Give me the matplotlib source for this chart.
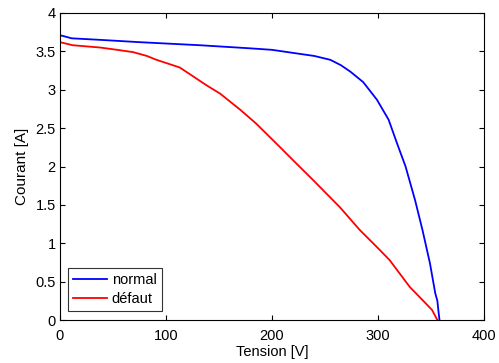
import matplotlib
matplotlib.use("Agg")
import matplotlib.pyplot as plt

V_normal = [0, 3, 11, 38, 75, 132, 179, 200, 220, 240, 255, 265, 274, 286, 299, 310, 318, 326, 335, 342, 349, 354, 356, 357, 358]
I_normal = [3.71, 3.70, 3.67, 3.65, 3.62, 3.58, 3.54, 3.52, 3.48, 3.44, 3.39, 3.32, 3.235, 3.10, 2.87, 2.61, 2.30, 2.00, 1.56, 1.17, 0.74, 0.35, 0.25, 0.12, 0.0]
V_defaut = [0, 3, 12, 38, 54, 69, 82, 91, 113, 138, 151, 170, 185, 207, 220, 239, 264, 283, 299, 311, 330, 342, 351, 356]
I_defaut = [3.62, 3.61, 3.58, 3.55, 3.52, 3.49, 3.44, 3.39, 3.29, 3.06, 2.95, 2.74, 2.56, 2.26, 2.08, 1.82, 1.47, 1.17, 0.95, 0.78, 0.43, 0.26, 0.13, 0.0]

plt.rcParams['font.family'] = ['Liberation Sans', 'DejaVu Sans']
fig = plt.figure(figsize=(4.99, 3.63), dpi=100)
ax = fig.add_axes([60/499, 1-320/363, (484-60)/499, (320-13)/363])
ax.plot(V_normal, I_normal, color='#0000ff', lw=1.3, label='normal')
ax.plot(V_defaut, I_defaut, color='#ff0000', lw=1.3, label='défaut')
ax.set_xlim(0, 400)
ax.set_ylim(0, 4)
ax.set_xticks([0, 100, 200, 300, 400])
ax.set_yticks([0, 0.5, 1, 1.5, 2, 2.5, 3, 3.5, 4])
ax.set_yticklabels(['0', '0.5', '1', '1.5', '2', '2.5', '3', '3.5', '4'])
ax.tick_params(direction='in', top=True, right=True, labelsize=10.5, length=3.5)
ax.tick_params(axis='x', pad=6.5)
ax.tick_params(axis='y', pad=3)
for s in ax.spines.values():
    s.set_linewidth(0.8)
ax.set_xlabel('Tension [V]', fontsize=10.5, labelpad=1.5)
ax.set_ylabel('Courant [A]', fontsize=11, labelpad=5)
leg = ax.legend(loc='lower left', bbox_to_anchor=(8/424, 9/307), fontsize=10.5, frameon=True,
                fancybox=False, edgecolor='black', borderpad=0.35, handlelength=2.3,
                handletextpad=0.35, labelspacing=0.35, borderaxespad=0)
leg.get_frame().set_linewidth(0.8)
fig.savefig('out.png', dpi=100)
